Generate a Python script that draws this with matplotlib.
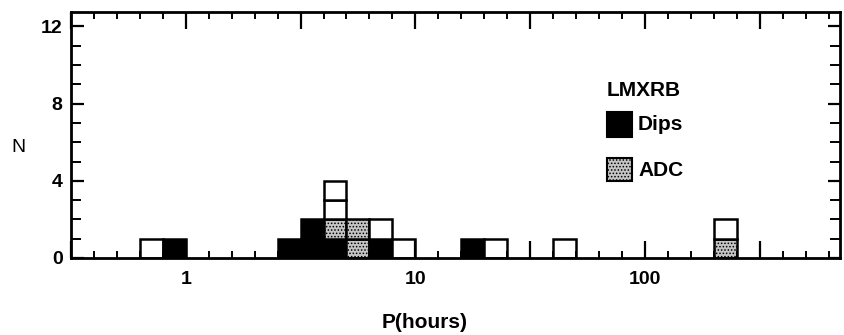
import numpy as np
import matplotlib.pyplot as plt
from matplotlib.patches import Rectangle
from matplotlib.ticker import FixedLocator, FuncFormatter

plt.rcParams['font.family'] = ['Liberation Sans', 'DejaVu Sans']
plt.rcParams['hatch.linewidth'] = 0.7

# period bins, 0.1 dex wide: left edge in log10(P / hours)
bin_lo = [-0.2, -0.1, 0.4, 0.5, 0.6, 0.7, 0.8, 0.9, 1.2, 1.3, 1.6, 2.3]
n_dips = [0, 1, 1, 2, 1, 0, 1, 0, 1, 0, 0, 0]
n_adc = [0, 0, 0, 0, 1, 2, 0, 0, 0, 0, 0, 1]
n_other = [1, 0, 0, 0, 2, 0, 1, 1, 0, 1, 1, 1]

W, H = 844, 335
fig = plt.figure(figsize=(W / 100, H / 100), dpi=100)
ax = fig.add_axes([71 / W, 1 - 258 / H, (840 - 71) / W, (258 - 12) / H])

stipple = '#c4c4c4'
styles = [
    (n_dips, dict(facecolor='black')),
    (n_adc, dict(facecolor=stipple, hatch='.....')),
    (n_other, dict(facecolor='white')),
]

# one box per source, stacked: dips, ADC, the rest
for i, lo in enumerate(bin_lo):
    left = 10 ** lo
    width = 10 ** (lo + 0.1) - left
    bottom = 0
    for counts, st in styles:
        for _ in range(counts[i]):
            ax.bar(left, 1, width=width, bottom=bottom, align='edge',
                   edgecolor='black', linewidth=1.8, **st)
            bottom += 1

ax.set_xscale('log')
ax.set_xlim(10 ** -0.5, 10 ** 2.85)
ax.set_ylim(0, 12.75)

ax.xaxis.set_major_locator(FixedLocator(10 ** np.arange(-0.5, 3.0, 0.5)))
ax.xaxis.set_minor_locator(FixedLocator(10 ** (np.arange(-5, 29) / 10)))
ax.xaxis.set_major_formatter(FuncFormatter(
    lambda v, p: '%g' % v if abs(np.log10(v) - round(np.log10(v))) < 1e-6 else ''))
ax.xaxis.set_minor_formatter(FuncFormatter(lambda v, p: ''))
ax.yaxis.set_major_locator(FixedLocator([0, 4, 8, 12]))
ax.yaxis.set_minor_locator(FixedLocator(range(13)))

ax.tick_params(axis='x', which='major', direction='in', top=True, length=12,
               width=1.6, pad=9, labelsize=14)
ax.tick_params(axis='x', which='minor', direction='in', top=True, length=5,
               width=1.4)
ax.tick_params(axis='y', which='major', direction='in', right=True, length=9,
               width=1.6, pad=6, labelsize=14)
ax.tick_params(axis='y', which='minor', direction='in', right=True, length=7,
               width=1.4)
for lab in ax.get_xticklabels() + ax.get_yticklabels():
    lab.set_fontweight('bold')
for sp in ax.spines.values():
    sp.set_linewidth(2)

fig.text(425 / W, 1 - 323 / H, 'P(hours)', fontsize=15, fontweight='bold',
         ha='center', va='center')
fig.text(18 / W, 1 - 147 / H, 'N', fontsize=14, ha='center', va='center')

# legend
fig.text(607 / W, 1 - 90 / H, 'LMXRB', fontsize=15, fontweight='bold',
         ha='left', va='center')
fig.add_artist(Rectangle((607 / W, 1 - 137 / H), 25 / W, 25 / H,
                         transform=fig.transFigure, facecolor='black',
                         edgecolor='black', linewidth=1.5))
fig.text(638 / W, 1 - 125 / H, 'Dips', fontsize=15, fontweight='bold',
         ha='left', va='center')
fig.add_artist(Rectangle((607 / W, 1 - 181 / H), 25 / W, 23 / H,
                         transform=fig.transFigure, facecolor=stipple,
                         hatch='.....', edgecolor='black', linewidth=1.5))
fig.text(638 / W, 1 - 170 / H, 'ADC', fontsize=15, fontweight='bold',
         ha='left', va='center')

fig.savefig('out.png', dpi=100)
